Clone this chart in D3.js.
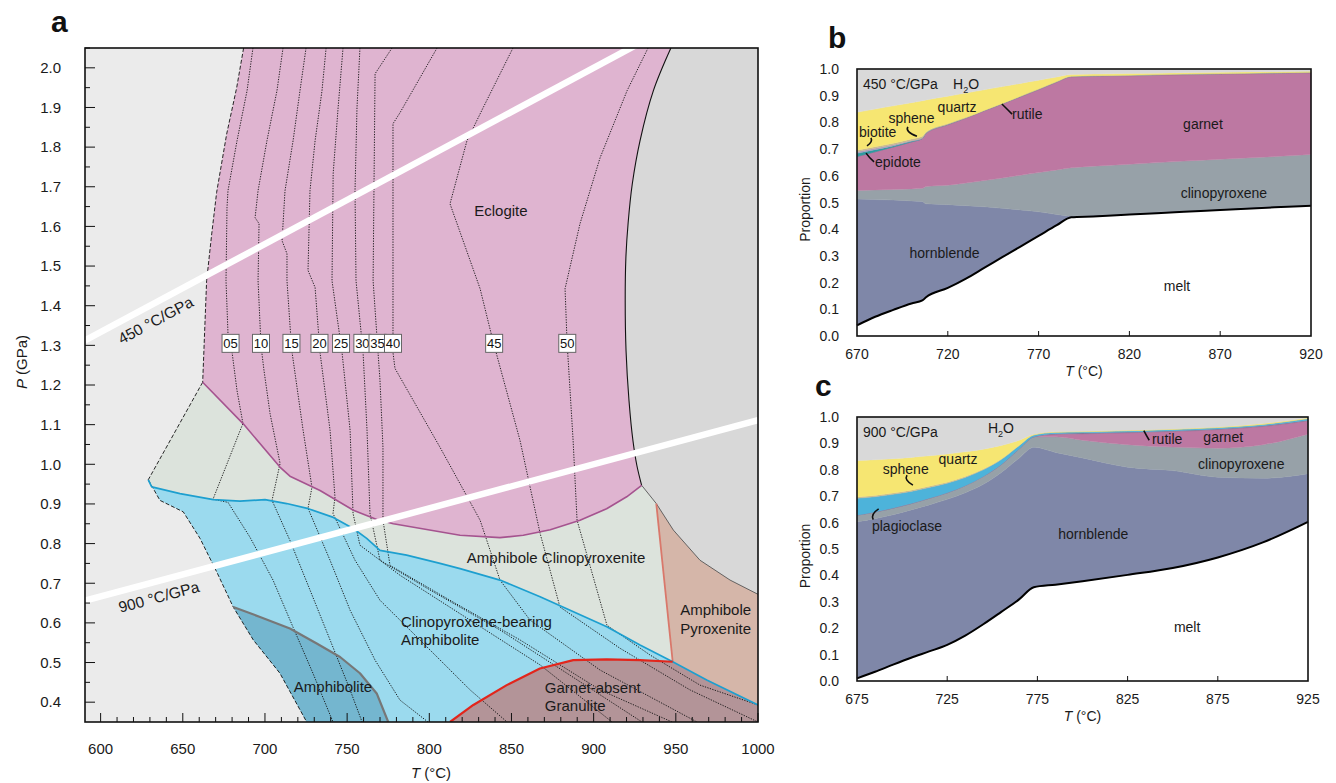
<!DOCTYPE html>
<html>
<head>
<meta charset="utf-8">
<script src="https://cdn.jsdelivr.net/npm/d3@7"></script>
<style>
  body { margin: 0; background: #fff; }
  svg { display: block; font-family: "Liberation Sans", Arial, Helvetica, sans-serif; }
</style>
</head>
<body>
<svg id="fig" width="1336" height="783"></svg>
<script>
// ================= Panel a: pressure–temperature pseudosection =================
const tempTicks = [600, 650, 700, 750, 800, 850, 900, 950, 1000];
const pressureTicks = [0.4, 0.5, 0.6, 0.7, 0.8, 0.9, 1.0, 1.1, 1.2, 1.3, 1.4, 1.5, 1.6, 1.7, 1.8, 1.9, 2.0];
const geotherms = [450, 900];                       // °C/GPa
const geothermLabels = ["450 °C/GPa", "900 °C/GPa"];

// phase boundaries, [T (°C), P (GPa)]
const eclogiteLeft = [[687, 2.05], [682.8, 1.950], [676.7, 1.833], [670.6, 1.686], [667.6, 1.581], [664.5, 1.463], [662.1, 1.207]];
const eclogiteBase = [[662.1, 1.207], [686.8, 1.102], [709.1, 0.993], [715.2, 0.970], [733.5, 0.934], [753.8, 0.884], [768.0, 0.861],
  [778.1, 0.850], [818.7, 0.821], [843.0, 0.815], [857.2, 0.821], [873.6, 0.835], [891.7, 0.859], [907.9, 0.888], [920.1, 0.918], [929.2, 0.947]];
const solidus = [[929.2, 0.947], [926.3, 0.997], [923.9, 1.060], [921.5, 1.161], [919.7, 1.287], [919.2, 1.413],
  [919.6, 1.520], [921.0, 1.610], [923.5, 1.707], [928.2, 1.816], [936.3, 1.942], [947, 2.05]];
const cpxOut = [[929.2, 0.947], [938.1, 0.901], [948.5, 0.834], [964.7, 0.758], [983, 0.708], [1000, 0.672]];
const amphPyxEdge = [[938.1, 0.901], [948.1, 0.502]];
const plagIn = [[629.0, 0.961], [631.1, 0.943], [648.3, 0.926], [668.6, 0.911], [684.8, 0.907], [700.0, 0.911], [713.2, 0.901],
  [726.4, 0.888], [741.6, 0.866], [753.7, 0.838], [761.9, 0.813], [770.0, 0.783], [786.2, 0.771], [806.5, 0.750], [818.7, 0.737],
  [843.0, 0.708], [867.4, 0.666], [908.0, 0.590], [928.2, 0.544], [948.1, 0.502]];
const plagInHigh = [[948.1, 0.502], [968.8, 0.456], [1000, 0.393]];
const amphCpxLeft = [[662.1, 1.207], [629.0, 0.961]];
const cpxAmphLeft = [[629.0, 0.961], [636.1, 0.909], [650.3, 0.880], [660.5, 0.813], [670.6, 0.729], [680.7, 0.640],
  [692.9, 0.557], [709.1, 0.473], [725.4, 0.35]];
const amphiboliteTop = [[680.7, 0.640], [697.0, 0.615], [715.2, 0.586], [731.5, 0.548], [745.7, 0.514], [757.8, 0.473], [768.0, 0.422], [775.0, 0.35]];
const garnetOut = [[812.6, 0.35], [826.8, 0.393], [847.1, 0.443], [867.3, 0.485], [887.6, 0.506], [907.9, 0.508], [928.2, 0.506], [948.1, 0.502]];

// melt-fraction isopleths (vol.%)
const isoplethLabels = ["05", "10", "15", "20", "25", "30", "35", "40", "45", "50"];
const isopleths = [
  [[692.7, 2.05], [689.1, 1.942], [683.0, 1.816], [677.5, 1.690], [676.9, 1.647], [676.3, 1.463], [677.5, 1.330], [680.0, 1.282], [683.0, 1.186],
   [686.6, 1.103], [668.4, 0.912], [677.5, 0.904], [690.9, 0.816], [704.9, 0.708], [717.1, 0.589], [729.2, 0.473], [741.4, 0.350]],
  [[711.0, 2.05], [707.3, 1.942], [701.2, 1.816], [695.8, 1.690], [694.0, 1.622], [696.4, 1.607], [695.8, 1.463], [697.6, 1.299], [699.4, 1.237],
   [703.1, 1.128], [709.2, 1.002], [704.3, 0.909], [715.2, 0.808], [727.4, 0.683], [739.6, 0.557], [751.8, 0.431], [759.1, 0.350]],
  [[725.0, 2.05], [721.3, 1.942], [717.1, 1.816], [712.2, 1.690], [710.4, 1.564], [713.4, 1.531], [713.4, 1.463], [715.9, 1.310], [716.5, 1.282],
   [723.2, 1.086], [728.6, 0.942], [726.2, 0.889], [739.6, 0.758], [751.8, 0.632], [767.0, 0.506], [782.2, 0.405], [799.2, 0.350]],
  [[737.2, 2.05], [734.7, 1.942], [730.5, 1.816], [727.4, 1.690], [726.2, 1.489], [730.5, 1.446], [733.5, 1.282], [739.6, 1.086], [742.6, 0.917],
   [741.4, 0.876], [754.8, 0.758], [770.0, 0.657], [794.3, 0.557], [824.8, 0.431], [847.3, 0.350]],
  [[747.5, 2.05], [744.5, 1.899], [741.5, 1.733], [740.8, 1.463], [746.9, 1.282], [751.8, 1.086], [753.6, 0.876], [757.8, 0.796], [782.2, 0.720],
   [824.8, 0.607], [867.4, 0.494], [911.2, 0.350]],
  [[757.8, 2.05], [756.0, 1.899], [754.8, 1.690], [755.4, 1.463], [759.7, 1.282], [762.1, 1.086], [763.9, 0.876], [770.0, 0.758], [800.4, 0.683],
   [843.0, 0.582], [885.6, 0.468], [929.4, 0.350]],
  [[777.3, 2.05], [767.0, 1.985], [765.8, 1.463], [768.8, 1.282], [770.0, 1.211], [771.8, 1.043], [771.8, 0.859], [776.1, 0.745], [812.6, 0.657],
   [855.2, 0.557], [903.9, 0.431], [947.7, 0.350]],
  [[804.7, 2.05], [782.2, 1.887], [777.9, 1.859], [777.9, 1.282], [779.1, 1.242], [806.5, 1.043], [830.9, 0.859], [843.0, 0.708], [861.3, 0.607],
   [903.9, 0.481], [962.9, 0.350]],
  [[850.9, 2.05], [832.7, 1.899], [822.9, 1.816], [812.6, 1.657], [830.9, 1.443], [838.8, 1.310], [855.2, 1.060], [867.4, 0.826], [879.5, 0.640],
   [916.0, 0.536], [958.6, 0.431], [1000, 0.350]],
  [[933.1, 2.05], [920.3, 1.942], [903.9, 1.773], [891.7, 1.607], [882.6, 1.443], [883.8, 1.310], [887.5, 1.060], [889.9, 0.859], [908.1, 0.594],
   [934.3, 0.519], [964.7, 0.443], [1000, 0.393]]
];
const isoplethLabelP = 1.3;

// field names: lines of text, anchor point [T, P], text-anchor
const fieldLabels = [
  { lines: ["Eclogite"], at: [843.6, 1.640], anchor: "middle" },
  { lines: ["Amphibole Clinopyroxenite"], at: [877.1, 0.764], anchor: "middle" },
  { lines: ["Clinopyroxene-bearing", "Amphibolite"], at: [782.8, 0.579], anchor: "start" },
  { lines: ["Amphibole", "Pyroxenite"], at: [952.7, 0.608], anchor: "start" },
  { lines: ["Amphibolite"], at: [741.4, 0.439], anchor: "middle" },
  { lines: ["Garnet-absent", "Granulite"], at: [870.3, 0.413], anchor: "start" }
];

// ================= Panels b, c: phase proportions along geotherms =================
const bTemps       = [670, 680, 690, 700, 706, 708, 720, 730, 740, 750, 760, 770, 780, 788, 800, 820, 850, 870, 900, 920];
const bMelt        = [0.040, 0.072, 0.098, 0.122, 0.133, 0.145, 0.180, 0.215, 0.255, 0.295, 0.335, 0.375, 0.415, 0.445, 0.448, 0.455, 0.465, 0.472, 0.482, 0.488];
const bHornblende  = [0.473, 0.439, 0.411, 0.384, 0.371, 0.350, 0.312, 0.273, 0.229, 0.183, 0.137, 0.090, 0.040, 0.004, 0.004, 0.004, 0.004, 0.004, 0.004, 0.004];
const bCpx         = [0.032, 0.036, 0.040, 0.045, 0.049, 0.065, 0.073, 0.085, 0.098, 0.114, 0.130, 0.147, 0.167, 0.181, 0.184, 0.184, 0.186, 0.186, 0.186, 0.188];
const bGarnet      = [0.127, 0.143, 0.159, 0.176, 0.187, 0.198, 0.225, 0.242, 0.260, 0.276, 0.293, 0.310, 0.328, 0.340, 0.336, 0.331, 0.323, 0.318, 0.311, 0.305];
const bRutile      = [0, 0, 0, 0, 0, 0.002, 0.003, 0.003, 0.003, 0.003, 0.003, 0.003, 0.003, 0.003, 0.003, 0.003, 0.003, 0.003, 0.003, 0.003];
const bEpidote     = [0.012, 0.008, 0.004, 0.002, 0, 0, 0, 0, 0, 0, 0, 0, 0, 0, 0, 0, 0, 0, 0, 0];
const bBiotite     = [0.006, 0.005, 0.004, 0.003, 0.002, 0, 0, 0, 0, 0, 0, 0, 0, 0, 0, 0, 0, 0, 0, 0];
const bSphene      = [0.006, 0.006, 0.006, 0.006, 0.006, 0.004, 0.002, 0, 0, 0, 0, 0, 0, 0, 0, 0, 0, 0, 0, 0];
const bQuartz      = [0.142, 0.141, 0.140, 0.136, 0.133, 0.120, 0.103, 0.092, 0.077, 0.063, 0.048, 0.033, 0.017, 0.006, 0.006, 0.006, 0.005, 0.005, 0.004, 0.004];
const bWater       = [0.162, 0.150, 0.138, 0.126, 0.119, 0.116, 0.102, 0.090, 0.078, 0.066, 0.054, 0.042, 0.030, 0.021, 0.019, 0.017, 0.014, 0.012, 0.010, 0.008];
const bTicks       = [670, 720, 770, 820, 870, 920];

const cTemps       = [675, 685, 695, 705, 715, 725, 735, 745, 755, 765, 773, 785, 800, 825, 850, 875, 900, 925];
const cMelt        = [0.010, 0.035, 0.062, 0.088, 0.112, 0.137, 0.172, 0.215, 0.262, 0.310, 0.355, 0.365, 0.378, 0.402, 0.428, 0.468, 0.525, 0.603];
const cHornblende  = [0.593, 0.580, 0.568, 0.560, 0.555, 0.551, 0.541, 0.530, 0.528, 0.535, 0.530, 0.501, 0.467, 0.408, 0.369, 0.304, 0.243, 0.182];
const cCpx         = [0.025, 0.025, 0.025, 0.024, 0.025, 0.025, 0.027, 0.030, 0.030, 0.035, 0.040, 0.059, 0.067, 0.085, 0.089, 0.110, 0.127, 0.150];
const cGarnet      = [0, 0, 0, 0, 0, 0, 0, 0, 0, 0, 0, 0.009, 0.024, 0.045, 0.059, 0.070, 0.069, 0.050];
const cRutile      = [0, 0, 0, 0, 0, 0, 0, 0, 0, 0, 0, 0.003, 0.003, 0.003, 0.003, 0.003, 0.003, 0.003];
const cPlagioclase = [0.064, 0.058, 0.052, 0.046, 0.041, 0.036, 0.031, 0.025, 0.019, 0.012, 0.007, 0.005, 0.005, 0.005, 0.005, 0.005, 0.005, 0.006];
const cSphene      = [0.005, 0.005, 0.005, 0.005, 0.005, 0.004, 0.004, 0.003, 0.002, 0.001, 0, 0, 0, 0, 0, 0, 0, 0];
const cQuartz      = [0.138, 0.135, 0.130, 0.124, 0.115, 0.107, 0.093, 0.075, 0.051, 0.019, 0.003, 0.002, 0.002, 0.002, 0.002, 0.002, 0.003, 0.003];
const cWater       = [0.165, 0.162, 0.158, 0.153, 0.147, 0.140, 0.132, 0.122, 0.108, 0.088, 0.065, 0.056, 0.054, 0.050, 0.045, 0.038, 0.025, 0.003];
const cTicks       = [675, 725, 775, 825, 875, 925];

const proportionTicks = [0, 0.1, 0.2, 0.3, 0.4, 0.5, 0.6, 0.7, 0.8, 0.9, 1.0];

const phaseColors = {
  melt: "#ffffff", hornblende: "#7f87a8", clinopyroxene: "#97a1a8", garnet: "#bd78a2", rutile: "#8d6a8a",
  epidote: "#2f9aa0", biotite: "#a99cc0", sphene: "#c9b98f", plagioclase: "#4db3da", quartz: "#f6e672", water: "#d9d9d9"
};

// ---------------------------------------------------------------------------------
const svg = d3.select("#fig");
svg.append("rect").attr("width", 1336).attr("height", 783).attr("fill", "#fff");

// ----- panel a -----
const A = { left: 85, right: 758, top: 48, bottom: 722 };
const xA = d3.scaleLinear().domain([590.5, 1000]).range([A.left, A.right]);
const yA = d3.scaleLinear().domain([0.35, 2.05]).range([A.bottom, A.top]);

const seg = (pts, curve) => d3.line().x(d => xA(d[0])).y(d => yA(d[1])).curve(curve || d3.curveLinear)(pts);
const poly = (...parts) => parts.map((s, i) => i ? s.replace(/^M/, "L") : s).join("") + "Z";
const rev = a => a.slice().reverse();
const smooth = d3.curveCatmullRom.alpha(0.5);

svg.append("clipPath").attr("id", "clipA").append("rect")
  .attr("x", A.left).attr("y", A.top).attr("width", A.right - A.left).attr("height", A.bottom - A.top);
const gA = svg.append("g").attr("clip-path", "url(#clipA)");

gA.append("rect").attr("x", A.left).attr("y", A.top).attr("width", A.right - A.left).attr("height", A.bottom - A.top).attr("fill", "#ebebeb");

// supersolidus field (high T)
gA.append("path").attr("fill", "#d8d8d8")
  .attr("d", poly(seg(solidus, smooth), seg([[1005, 2.1], [1005, 0.672]]), seg(rev(cpxOut))));
// eclogite
gA.append("path").attr("fill", "#dfb4d0")
  .attr("d", poly(seg(eclogiteLeft), seg(eclogiteBase), seg(solidus, smooth)));
// amphibole clinopyroxenite
gA.append("path").attr("fill", "#dce3dc")
  .attr("d", poly(seg(eclogiteBase), seg(cpxOut.slice(0, 2)), seg(amphPyxEdge), seg(rev(plagIn)), seg(rev(amphCpxLeft))));
// amphibole pyroxenite
gA.append("path").attr("fill", "#d5b6a9")
  .attr("d", poly(seg(cpxOut.slice(1)), seg([[1005, 0.672], [1005, 0.393]]), seg(rev(plagInHigh)), seg(rev(amphPyxEdge))));
// clinopyroxene-bearing amphibolite
gA.append("path").attr("fill", "#9bdaee")
  .attr("d", poly(seg(plagIn), seg(rev(garnetOut)), seg(rev(cpxAmphLeft))));
// amphibolite
gA.append("path").attr("fill", "#74b6cf")
  .attr("d", poly(seg(amphiboliteTop), seg(rev(cpxAmphLeft.slice(5)))));
// garnet-absent granulite
gA.append("path").attr("fill", "#b39498")
  .attr("d", poly(seg(garnetOut), seg(plagInHigh), seg([[1005, 0.393], [1005, 0.30], [812.6, 0.30]])));

// melt isopleths
gA.append("g").selectAll("path").data(isopleths).join("path")
  .attr("d", d => seg(d)).attr("fill", "none").attr("stroke", "#111")
  .attr("stroke-width", 0.9).attr("stroke-dasharray", "1.3,1.3");

// phase boundaries
const boundary = (pts, color, width, dash, curve) => gA.append("path").attr("d", seg(pts, curve))
  .attr("fill", "none").attr("stroke", color).attr("stroke-width", width)
  .attr("stroke-dasharray", dash || null).attr("stroke-linejoin", "round");
boundary(eclogiteLeft, "#111", 0.9, "4,2");
boundary(amphCpxLeft, "#111", 0.9, "4,2");
boundary(cpxAmphLeft, "#111", 0.9, "4,2");
boundary(cpxOut, "#555", 0.9);
boundary(solidus, "#111", 1.1, null, smooth);
boundary(eclogiteBase, "#a5538f", 1.6);
boundary(amphPyxEdge, "#d9786b", 1.8);
boundary(plagIn.concat(plagInHigh.slice(1)), "#1d9fcf", 1.7);
boundary(amphiboliteTop, "#777", 2.2);
boundary(garnetOut, "#e2261c", 2.2);

// geotherms
geotherms.forEach(g => {
  const pts = [[590.5, 590.5 / g], [1000, 1000 / g]];
  gA.append("path").attr("d", seg(pts)).attr("stroke", "#fff").attr("stroke-width", 6.5).attr("fill", "none");
});

// isopleth label boxes at a fixed pressure
isopleths.forEach((pts, i) => {
  let T = null;
  for (let k = 0; k < pts.length - 1; k++) {
    const [t0, p0] = pts[k], [t1, p1] = pts[k + 1];
    if ((p0 - isoplethLabelP) * (p1 - isoplethLabelP) <= 0 && p0 !== p1) {
      T = t0 + (t1 - t0) * (isoplethLabelP - p0) / (p1 - p0); break;
    }
  }
  const cx = xA(T), cy = yA(isoplethLabelP) - 2;
  const g = gA.append("g");
  g.append("rect").attr("x", cx - 8.5).attr("y", cy - 9).attr("width", 17).attr("height", 18)
    .attr("fill", "#fff").attr("stroke", "#666").attr("stroke-width", 1);
  g.append("text").attr("x", cx).attr("y", cy + 4.7).attr("text-anchor", "middle")
    .attr("font-size", 13).attr("fill", "#111").text(isoplethLabels[i]);
});

// field names
fieldLabels.forEach(f => {
  const t = gA.append("text").attr("font-size", 15).attr("fill", "#1a1a1a").attr("text-anchor", f.anchor);
  const x0 = xA(f.at[0]), y0 = yA(f.at[1]);
  f.lines.forEach((ln, j) => {
    t.append("tspan").attr("x", x0).attr("y", y0 + 5 + (j - (f.lines.length - 1) / 2) * 18.5).text(ln);
  });
});

// geotherm labels, rotated along the line
geotherms.forEach((g, i) => {
  const T0 = [629, 633][i];
  const px = xA(T0), py = yA(T0 / g);
  const ang = Math.atan2(yA((T0 + 10) / g) - py, xA(T0 + 10) - px) * 180 / Math.PI;
  const off = 15.5;
  const rad = (ang + 90) * Math.PI / 180;
  gA.append("text").attr("transform", `translate(${px + off * Math.cos(rad)},${py + off * Math.sin(rad)}) rotate(${ang})`)
    .attr("text-anchor", "middle").attr("dy", "0.35em").attr("font-size", 15.5).attr("fill", "#1a1a1a")
    .text(geothermLabels[i]);
});

// frame and ticks, panel a
const axA = svg.append("g");
axA.append("rect").attr("x", A.left).attr("y", A.top).attr("width", A.right - A.left).attr("height", A.bottom - A.top)
  .attr("fill", "none").attr("stroke", "#111").attr("stroke-width", 1.6);
d3.range(600, 1001, 10).forEach(t => {
  const major = t % 50 === 0;
  axA.append("line").attr("x1", xA(t)).attr("x2", xA(t)).attr("y1", A.bottom).attr("y2", A.bottom - (major ? 9 : 5))
    .attr("stroke", "#111").attr("stroke-width", 1);
});
tempTicks.forEach(t => axA.append("text").attr("x", xA(t)).attr("y", 754).attr("text-anchor", "middle")
  .attr("font-size", 15).attr("fill", "#1a1a1a").text(t));
d3.range(0.4, 2.051, 0.05).forEach(p => {
  const major = Math.abs(Math.round(p * 10) - p * 10) < 1e-6;
  axA.append("line").attr("x1", A.left).attr("x2", A.left + (major ? 10 : 5)).attr("y1", yA(p)).attr("y2", yA(p))
    .attr("stroke", "#111").attr("stroke-width", 1);
});
pressureTicks.forEach(p => axA.append("text").attr("x", 61).attr("y", yA(p) + 5.3).attr("text-anchor", "end")
  .attr("font-size", 15).attr("fill", "#1a1a1a").text(p.toFixed(1)));
const yLab = axA.append("text").attr("transform", "translate(27,362) rotate(-90)").attr("text-anchor", "middle")
  .attr("font-size", 15).attr("fill", "#1a1a1a");
yLab.append("tspan").attr("font-style", "italic").text("P");
yLab.append("tspan").text(" (GPa)");
const xLab = axA.append("text").attr("x", 431).attr("y", 778).attr("text-anchor", "middle").attr("font-size", 15).attr("fill", "#1a1a1a");
xLab.append("tspan").attr("font-style", "italic").text("T");
xLab.append("tspan").text(" (°C)");
svg.append("text").attr("x", 51).attr("y", 32).attr("font-size", 30).attr("font-weight", "bold").attr("fill", "#111").text("a");

// ----- panels b and c -----
function proportionPanel(cfg) {
  const x = d3.scaleLinear().domain([cfg.temps[0], cfg.temps[cfg.temps.length - 1]]).range([cfg.left, cfg.right]);
  const y = d3.scaleLinear().domain([0, 1]).range([cfg.bottom, cfg.top]);
  const rows = cfg.temps.map((t, i) => {
    const r = { T: t };
    cfg.keys.forEach(k => r[k] = cfg.series[k][i]);
    return r;
  });
  const stacked = d3.stack().keys(cfg.keys)(rows);
  const area = d3.area().x(d => x(d.data.T)).y0(d => y(d[0])).y1(d => y(d[1])).curve(d3.curveMonotoneX);
  const g = svg.append("g");
  g.selectAll("path.layer").data(stacked).join("path").attr("class", "layer")
    .attr("d", area).attr("fill", d => phaseColors[d.key])
    .attr("stroke", d => d.key === "melt" ? "none" : phaseColors[d.key]).attr("stroke-width", 0.4);
  // melt boundary
  g.append("path").attr("d", d3.line().x(d => x(d.data.T)).y(d => y(d[1])).curve(d3.curveMonotoneX)(stacked[0]))
    .attr("fill", "none").attr("stroke", "#000").attr("stroke-width", 2);
  // frame
  g.append("rect").attr("x", cfg.left).attr("y", cfg.top).attr("width", cfg.right - cfg.left).attr("height", cfg.bottom - cfg.top)
    .attr("fill", "none").attr("stroke", "#111").attr("stroke-width", 1.6);
  cfg.ticks.forEach((t, i) => {
    if (i > 0 && i < cfg.ticks.length - 1)
      g.append("line").attr("x1", x(t)).attr("x2", x(t)).attr("y1", cfg.bottom).attr("y2", cfg.bottom - 5).attr("stroke", "#111");
    g.append("text").attr("x", x(t)).attr("y", cfg.bottom + 23).attr("text-anchor", "middle").attr("font-size", 14)
      .attr("fill", "#1a1a1a").text(t);
  });
  proportionTicks.forEach(p => g.append("text").attr("x", cfg.left - 18).attr("y", y(p) + 5).attr("text-anchor", "end")
    .attr("font-size", 14).attr("fill", "#1a1a1a").text(p.toFixed(1)));
  g.append("text").attr("transform", `translate(${cfg.left - 47},${(cfg.top + cfg.bottom) / 2 + 7}) rotate(-90)`)
    .attr("text-anchor", "middle").attr("font-size", 14).attr("fill", "#1a1a1a").text("Proportion");
  const xl = g.append("text").attr("x", (cfg.left + cfg.right) / 2).attr("y", cfg.bottom + 40).attr("text-anchor", "middle")
    .attr("font-size", 14).attr("fill", "#1a1a1a");
  xl.append("tspan").attr("font-style", "italic").text("T");
  xl.append("tspan").text(" (°C)");
  // labels
  cfg.labels.forEach(l => {
    const t = g.append("text").attr("x", x(l.at[0])).attr("y", y(l.at[1]) + 5).attr("text-anchor", l.anchor || "middle")
      .attr("font-size", 14).attr("fill", "#1a1a1a");
    if (l.sub) {
      t.append("tspan").text(l.text[0]);
      t.append("tspan").attr("font-size", 9).attr("dy", 4).text(l.text[1]);
      t.append("tspan").attr("dy", -4).text(l.text[2]);
    } else t.text(l.text);
  });
  // leader hooks
  cfg.hooks.forEach(h => {
    const x0 = x(h[0]), y0 = y(h[1]), x1 = x(h[2]), y1 = y(h[3]);
    g.append("path").attr("d", `M${x0},${y0} Q${x0 + h[4]},${(y0 + y1) / 2 + h[5]} ${x1},${y1}`)
      .attr("fill", "none").attr("stroke", "#111").attr("stroke-width", 1.6);
  });
  svg.append("text").attr("x", cfg.letter[0]).attr("y", cfg.letter[1]).attr("font-size", 30).attr("font-weight", "bold")
    .attr("fill", "#111").text(cfg.letterText);
}

proportionPanel({
  left: 857, right: 1311, top: 69, bottom: 336, temps: bTemps, ticks: bTicks,
  keys: ["melt", "hornblende", "clinopyroxene", "garnet", "rutile", "epidote", "biotite", "sphene", "quartz", "water"],
  series: { melt: bMelt, hornblende: bHornblende, clinopyroxene: bCpx, garnet: bGarnet, rutile: bRutile, epidote: bEpidote,
            biotite: bBiotite, sphene: bSphene, quartz: bQuartz, water: bWater },
  labels: [
    { text: "450 °C/GPa", at: [673.3, 0.943], anchor: "start" },
    { text: ["H", "2", "O"], sub: true, at: [722.9, 0.943], anchor: "start" },
    { text: "quartz", at: [725.1, 0.858] },
    { text: "sphene", at: [700, 0.816] },
    { text: "biotite", at: [671.1, 0.764], anchor: "start" },
    { text: "epidote", at: [679.9, 0.652], anchor: "start" },
    { text: "rutile", at: [755.4, 0.831], anchor: "start" },
    { text: "garnet", at: [860.5, 0.794] },
    { text: "clinopyroxene", at: [872, 0.536] },
    { text: "hornblende", at: [718.2, 0.311] },
    { text: "melt", at: [846.2, 0.187] }
  ],
  hooks: [
    [698, 0.783, 703, 0.748, -3, 0],
    [677.7, 0.742, 675.5, 0.712, 2, 0],
    [679.4, 0.652, 675, 0.685, -5, 0],
    [755.4, 0.831, 749.8, 0.869, -5, 0]
  ],
  letter: [828, 48], letterText: "b"
});

proportionPanel({
  left: 857, right: 1308, top: 417, bottom: 681, temps: cTemps, ticks: cTicks,
  keys: ["melt", "hornblende", "clinopyroxene", "garnet", "rutile", "plagioclase", "sphene", "quartz", "water"],
  series: { melt: cMelt, hornblende: cHornblende, clinopyroxene: cCpx, garnet: cGarnet, rutile: cRutile,
            plagioclase: cPlagioclase, sphene: cSphene, quartz: cQuartz, water: cWater },
  labels: [
    { text: "900 °C/GPa", at: [678.3, 0.943], anchor: "start" },
    { text: ["H", "2", "O"], sub: true, at: [747.6, 0.958], anchor: "start" },
    { text: "quartz", at: [731, 0.841] },
    { text: "sphene", at: [702, 0.803] },
    { text: "plagioclase", at: [683.3, 0.587], anchor: "start" },
    { text: "rutile", at: [838.5, 0.917], anchor: "start" },
    { text: "garnet", at: [878, 0.924] },
    { text: "clinopyroxene", at: [888, 0.823] },
    { text: "hornblende", at: [806, 0.555] },
    { text: "melt", at: [858, 0.206] }
  ],
  hooks: [
    [702.7, 0.780, 706, 0.742, -3, 0],
    [684, 0.611, 687, 0.652, -3, 0],
    [837, 0.912, 834, 0.948, -3, 0]
  ],
  letter: [815, 396], letterText: "c"
});
</script>
</body>
</html>
